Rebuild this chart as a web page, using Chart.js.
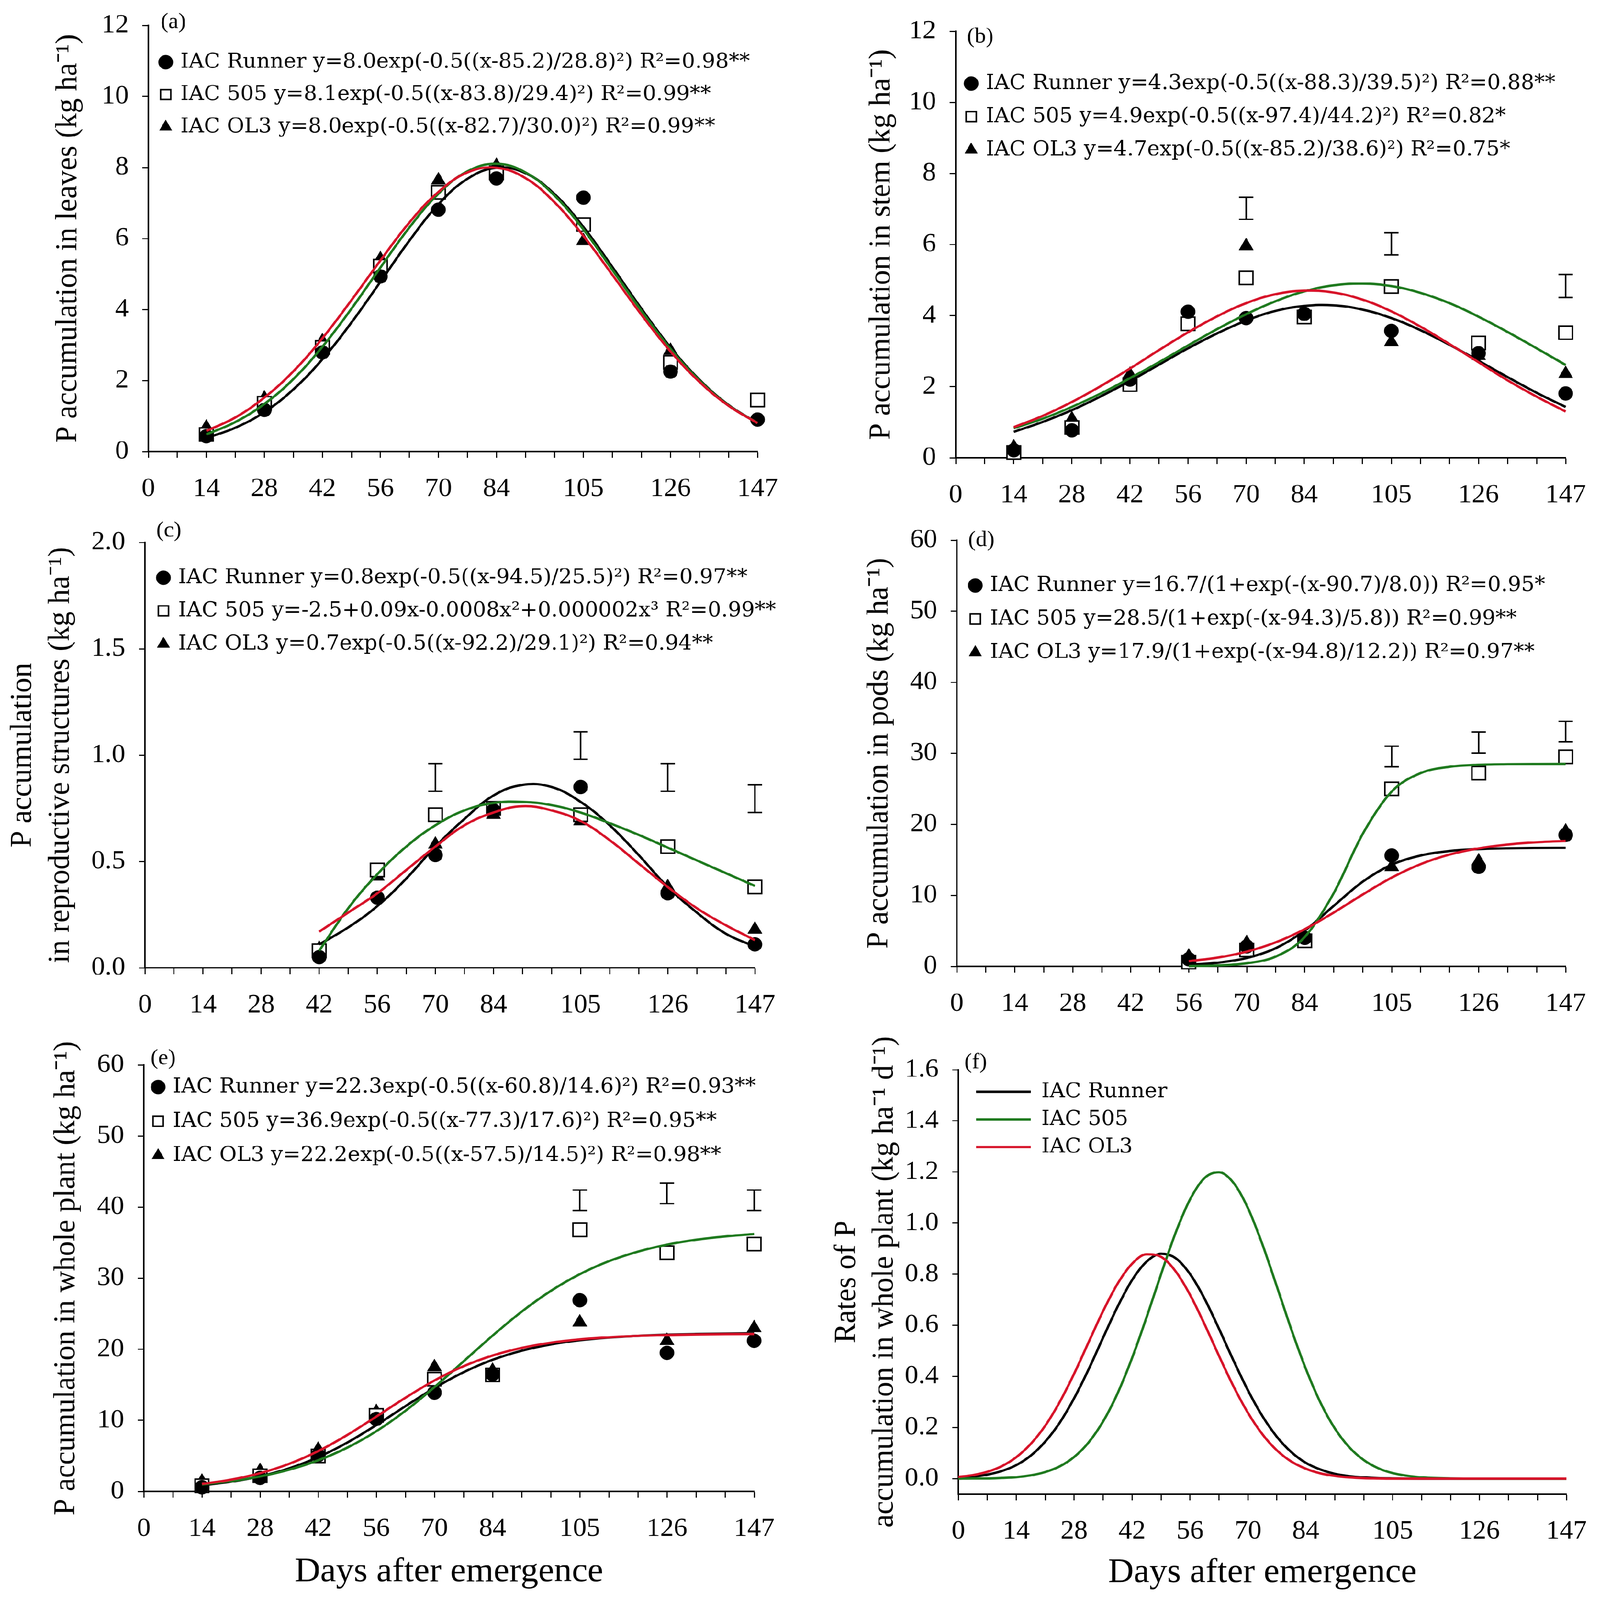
<!DOCTYPE html>
<html>
<head>
<meta charset="utf-8">
<title>P accumulation</title>
<script src="https://cdn.jsdelivr.net/npm/chart.js@4.4.1/dist/chart.umd.min.js"></script>
<style>
  html, body { margin: 0; padding: 0; background: #ffffff; overflow: hidden; }
  #page { width: 4239px; height: 4348px; position: absolute; left: 0; top: 0; transform-origin: 0 0; }
  canvas { position: absolute; }
</style>
</head>
<body>
<div id="page">
<canvas id="panelA"></canvas>
<canvas id="panelB"></canvas>
<canvas id="panelC"></canvas>
<canvas id="panelD"></canvas>
<canvas id="panelE"></canvas>
<canvas id="panelF"></canvas>
</div>
<script>
// ---- values ----
const X_TICKS = [0, 7, 14, 21, 28, 35, 42, 49, 56, 63, 70, 77, 84, 91, 98, 105, 112, 119, 126, 133, 140, 147];
const X_TICK_LABELS = [0, 14, 28, 42, 56, 70, 84, 105, 126, 147];

const DAYS = [14, 28, 42, 56, 70, 84, 105, 126, 147];
const DAYS_C = [42, 56, 70, 84, 105, 126, 147];
const DAYS_D = [56, 70, 84, 105, 126, 147];
const FIT_X = [14, 21, 28, 35, 42, 49, 56, 63, 70, 77, 84, 91, 98, 105, 112, 119, 126, 133, 140, 147];
const FIT_X_C = [42, 49, 56, 63, 70, 77, 84, 91, 98, 105, 112, 119, 126, 133, 140, 147];
const FIT_X_D = [56, 63, 70, 77, 84, 91, 98, 105, 112, 119, 126, 133, 140, 147];
const RATE_X = [0, 3.5, 7, 10.5, 14, 17.5, 21, 24.5, 28, 31.5, 35, 38.5, 42, 45.5, 49, 52.5, 56, 59.5, 63, 66.5,
  70, 73.5, 77, 80.5, 84, 87.5, 91, 94.5, 98, 101.5, 105, 112, 119, 126, 133, 140, 147];

// (a) leaves
const A_Y_TICKS = [0, 2, 4, 6, 8, 10, 12];
const A_RUNNER = [0.43, 1.17, 2.79, 4.93, 6.81, 7.69, 7.15, 2.25, 0.90];
const A_505 = [0.48, 1.36, 2.93, 5.22, 7.30, 7.85, 6.39, 2.51, 1.45];
const A_OL3 = [0.68, 1.50, 3.11, 5.42, 7.64, 8.05, 5.93, 2.84, 1.36];
const A_FIT_RUNNER = [0.38, 0.67, 1.11, 1.75, 2.60, 3.63, 4.78, 5.94, 6.96, 7.68, 7.99, 7.84, 7.25, 6.32, 5.19, 4.02, 2.93, 2.02, 1.31, 0.80];
const A_FIT_505 = [0.48, 0.83, 1.34, 2.04, 2.95, 4.02, 5.18, 6.31, 7.26, 7.89, 8.10, 7.86, 7.21, 6.25, 5.11, 3.96, 2.89, 2.00, 1.30, 0.80];
const A_FIT_OL3 = [0.58, 0.96, 1.52, 2.26, 3.19, 4.26, 5.38, 6.45, 7.31, 7.86, 7.99, 7.70, 7.02, 6.07, 4.97, 3.85, 2.82, 1.96, 1.29, 0.80];
const A_LEGEND = [
  'IAC Runner y=8.0exp(-0.5((x-85.2)/28.8)²) R²=0.98**',
  'IAC 505 y=8.1exp(-0.5((x-83.8)/29.4)²) R²=0.99**',
  'IAC OL3 y=8.0exp(-0.5((x-82.7)/30.0)²) R²=0.99**'
];

// (b) stem
const B_Y_TICKS = [0, 2, 4, 6, 8, 10, 12];
const B_RUNNER = [0.21, 0.77, 2.20, 4.11, 3.93, 4.05, 3.57, 2.94, 1.81];
const B_505 = [0.15, 0.85, 2.06, 3.77, 5.06, 3.96, 4.82, 3.23, 3.52];
const B_OL3 = [0.30, 1.09, 2.34, 4.00, 5.96, 3.96, 3.26, 2.87, 2.36];
const B_FIT_RUNNER = [0.73, 1.01, 1.34, 1.73, 2.16, 2.62, 3.08, 3.50, 3.86, 4.13, 4.27, 4.29, 4.17, 3.93, 3.59, 3.18, 2.73, 2.27, 1.83, 1.43];
const B_FIT_505 = [0.83, 1.10, 1.43, 1.81, 2.24, 2.69, 3.16, 3.62, 4.04, 4.40, 4.68, 4.85, 4.90, 4.83, 4.64, 4.35, 3.97, 3.54, 3.08, 2.61];
const B_FIT_OL3 = [0.86, 1.18, 1.57, 2.02, 2.51, 3.03, 3.53, 3.98, 4.35, 4.60, 4.70, 4.65, 4.45, 4.12, 3.69, 3.20, 2.69, 2.18, 1.72, 1.30];
const B_BAR_X = [70, 105, 147];
const B_BAR_LO = [6.71, 5.71, 4.51];
const B_BAR_HI = [7.33, 6.33, 5.16];
const B_LEGEND = [
  'IAC Runner y=4.3exp(-0.5((x-88.3)/39.5)²) R²=0.88**',
  'IAC 505 y=4.9exp(-0.5((x-97.4)/44.2)²) R²=0.82*',
  'IAC OL3 y=4.7exp(-0.5((x-85.2)/38.6)²) R²=0.75*'
];

// (c) reproductive structures
const C_Y_TICKS = [0, 0.5, 1.0, 1.5, 2.0];
const C_RUNNER = [0.05, 0.33, 0.53, 0.74, 0.85, 0.35, 0.11];
const C_505 = [0.08, 0.46, 0.72, 0.75, 0.72, 0.57, 0.38];
const C_OL3 = [0.09, 0.43, 0.58, 0.72, 0.69, 0.38, 0.18];
const C_FIT_RUNNER = [0.11, 0.19, 0.29, 0.42, 0.57, 0.70, 0.81, 0.86, 0.85, 0.78, 0.67, 0.53, 0.38, 0.26, 0.16, 0.10];
const C_FIT_505 = [0.08, 0.28, 0.44, 0.57, 0.67, 0.74, 0.775, 0.78, 0.765, 0.73, 0.68, 0.625, 0.565, 0.505, 0.445, 0.385];
const C_FIT_OL3 = [0.17, 0.26, 0.35, 0.46, 0.57, 0.67, 0.73, 0.76, 0.74, 0.69, 0.60, 0.49, 0.38, 0.28, 0.20, 0.13];
const C_BAR_X = [70, 105, 126, 147];
const C_BAR_LO = [0.83, 0.98, 0.83, 0.73];
const C_BAR_HI = [0.96, 1.11, 0.96, 0.86];
const C_LEGEND = [
  'IAC Runner y=0.8exp(-0.5((x-94.5)/25.5)²) R²=0.97**',
  'IAC 505 y=-2.5+0.09x-0.0008x²+0.000002x³ R²=0.99**',
  'IAC OL3 y=0.7exp(-0.5((x-92.2)/29.1)²) R²=0.94**'
];

// (d) pods
const D_Y_TICKS = [0, 10, 20, 30, 40, 50, 60];
const D_RUNNER = [1.0, 2.8, 4.0, 15.6, 14.0, 18.5];
const D_505 = [0.6, 2.3, 3.6, 25.0, 27.2, 29.5];
const D_OL3 = [1.4, 3.3, 4.2, 14.0, 14.8, 19.0];
const D_FIT_RUNNER = [0.22, 0.51, 1.17, 2.55, 5.04, 8.51, 11.92, 14.31, 15.61, 16.23, 16.50, 16.62, 16.67, 16.69];
const D_FIT_505 = [0.04, 0.13, 0.43, 1.37, 4.13, 10.30, 18.65, 24.61, 27.21, 28.10, 28.38, 28.46, 28.49, 28.50];
const D_FIT_OL3 = [0.72, 1.23, 2.07, 3.38, 5.23, 7.57, 10.11, 12.49, 14.39, 15.74, 16.61, 17.15, 17.47, 17.66];
const D_BAR_X = [105, 126, 147];
const D_BAR_LO = [28.1, 30.0, 31.6];
const D_BAR_HI = [31.0, 33.0, 34.5];
const D_LEGEND = [
  'IAC Runner y=16.7/(1+exp(-(x-90.7)/8.0)) R²=0.95*',
  'IAC 505 y=28.5/(1+exp(-(x-94.3)/5.8)) R²=0.99**',
  'IAC OL3 y=17.9/(1+exp(-(x-94.8)/12.2)) R²=0.97**'
];

// (e) whole plant
const E_Y_TICKS = [0, 10, 20, 30, 40, 50, 60];
const E_RUNNER = [0.6, 1.9, 5.1, 10.2, 13.9, 16.5, 26.9, 19.5, 21.2];
const E_505 = [0.8, 2.2, 5.0, 10.7, 15.8, 16.4, 36.8, 33.6, 34.8];
const E_OL3 = [1.4, 2.9, 5.9, 11.2, 17.5, 17.0, 23.8, 21.2, 23.0];
const E_FIT_RUNNER = [0.87, 1.37, 2.13, 3.25, 4.82, 6.87, 9.33, 11.99, 14.55, 16.77, 18.52, 19.80, 20.68, 21.27, 21.65, 21.89, 22.05, 22.14, 22.20, 22.24];
const E_FIT_505 = [0.98, 1.45, 2.11, 3.06, 4.38, 6.16, 8.47, 11.34, 14.68, 18.29, 21.92, 25.29, 28.20, 30.56, 32.39, 33.74, 34.72, 35.41, 35.88, 36.21];
const E_FIT_OL3 = [1.05, 1.66, 2.57, 3.88, 5.67, 7.94, 10.53, 13.18, 15.61, 17.61, 19.12, 20.19, 20.92, 21.39, 21.69, 21.88, 22.00, 22.08, 22.13, 22.15];
const E_BAR_X = [105, 126, 147];
const E_BAR_LO = [39.5, 40.5, 39.5];
const E_BAR_HI = [42.4, 43.4, 42.4];
const E_LEGEND = [
  'IAC Runner y=22.3exp(-0.5((x-60.8)/14.6)²) R²=0.93**',
  'IAC 505 y=36.9exp(-0.5((x-77.3)/17.6)²) R²=0.95**',
  'IAC OL3 y=22.2exp(-0.5((x-57.5)/14.5)²) R²=0.98**'
];

// (f) rates
const F_Y_TICKS = [0, 0.2, 0.4, 0.6, 0.8, 1.0, 1.2, 1.4, 1.6];
const F_RUNNER = [0.004, 0.008, 0.016, 0.030, 0.053, 0.090, 0.145, 0.219, 0.315, 0.428, 0.552, 0.673, 0.777, 0.849, 0.880, 0.863,
  0.801, 0.705, 0.587, 0.463, 0.346, 0.245, 0.164, 0.104, 0.062, 0.036, 0.019, 0.010, 0.005, 0.002, 0.001, 0, 0, 0, 0, 0, 0];
const F_505 = [0, 0.001, 0.001, 0.003, 0.006, 0.013, 0.026, 0.048, 0.085, 0.142, 0.224, 0.334, 0.472, 0.631, 0.800, 0.961,
  1.092, 1.176, 1.199, 1.158, 1.059, 0.917, 0.752, 0.584, 0.430, 0.299, 0.197, 0.123, 0.073, 0.041, 0.022, 0.005, 0.001, 0, 0, 0, 0];
const F_OL3 = [0.007, 0.014, 0.027, 0.049, 0.084, 0.136, 0.207, 0.300, 0.411, 0.534, 0.656, 0.763, 0.841, 0.878, 0.868, 0.812,
  0.720, 0.605, 0.481, 0.362, 0.258, 0.174, 0.111, 0.067, 0.039, 0.021, 0.011, 0.005, 0.002, 0.001, 0, 0, 0, 0, 0, 0, 0];
const F_LEGEND = ['IAC Runner', 'IAC 505', 'IAC OL3'];

// ---- styles ----
const BLACK = '#000000';
const GREEN = '#1f7a1f';
const RED = '#d7142a';

const PAGE_W = 4239;
const PAGE_H = 4348;
const AXIS_W = 380;          // width given to every y axis box
const PAD_TOP = 90;
const PAD_RIGHT = 110;
const X_AXIS_H = 150;
const X_AXIS_H_TITLE = 330;
const LEGEND_SIZE = 56;

const SERIF = '"Liberation Serif", "Times New Roman", serif';
const TICK_FONT = { family: SERIF, size: 72 };
const TITLE_FONT = { family: SERIF, size: 81, lineHeight: 1.235 };
const XTITLE_FONT = { family: SERIF, size: 94, lineHeight: 1.2 };
const LEGEND_FONT = { family: '"DejaVu Serif", serif', size: LEGEND_SIZE };

const MARKERS = [
  { shape: 'circle', r: 19, fill: BLACK, bw: 1 },
  { shape: 'rect', r: 25.5, fill: '#ffffff', bw: 4 },
  { shape: 'triangle', r: 22, fill: BLACK, bw: 1 }
];

function pairs(xs, ys) {
  return xs.map((x, i) => ({ x: x, y: ys[i] }));
}

function markerSet(label, xs, ys, m) {
  return {
    label: label,
    data: pairs(xs, ys),
    showLine: false,
    pointStyle: m.shape,
    pointRadius: m.r,
    pointHoverRadius: m.r,
    backgroundColor: m.fill,
    borderColor: BLACK,
    borderWidth: m.bw,
    clip: false,
    order: 3
  };
}

// smooth: 'monotone' for s-shaped fits, otherwise a plain bezier
function curveSet(label, xs, ys, color, order, smooth) {
  const set = {
    label: label,
    data: pairs(xs, ys),
    borderColor: color,
    backgroundColor: color,
    borderWidth: 6.5,
    pointBorderWidth: 6.5,
    pointRadius: 0,
    pointHoverRadius: 0,
    fill: false,
    clip: false,
    order: order
  };
  if (smooth === 'monotone') {
    set.cubicInterpolationMode = 'monotone';
  } else {
    set.tension = 0.4;
  }
  return set;
}

function errorBarSet(xs, lo, hi) {
  const data = [];
  xs.forEach((x, i) => {
    data.push({ x: x, y: lo[i] }, { x: x, y: hi[i] }, { x: x, y: null });
  });
  return {
    label: '',
    data: data,
    borderColor: BLACK,
    borderWidth: 4,
    pointStyle: 'line',
    pointRadius: 19,
    pointHoverRadius: 19,
    pointBorderColor: BLACK,
    pointBorderWidth: 4,
    spanGaps: false,
    clip: false,
    order: 6
  };
}

// markers + fitted curves (+ optional error bars) for panels a-e
function panelData(days, runner, c505, ol3, fitX, fitRunner, fit505, fitOl3, legend, bars, smooth) {
  const sets = [
    markerSet(legend[0], days, runner, MARKERS[0]),
    markerSet(legend[1], days, c505, MARKERS[1]),
    markerSet(legend[2], days, ol3, MARKERS[2]),
    curveSet('', fitX, fitRunner, BLACK, 2, smooth),
    curveSet('', fitX, fit505, GREEN, 1, smooth),
    curveSet('', fitX, fitOl3, RED, 0, smooth)
  ];
  if (bars) sets.push(errorBarSet(bars[0], bars[1], bars[2]));
  return sets;
}

// moves the chartArea legend to where it sits in the figure
const legendPlace = {
  id: 'legendPlace',
  afterLayout(chart, args, opts) {
    const lg = chart.legend;
    const ca = chart.chartArea;
    if (!lg || !opts.pos) return;
    const pad = opts.pos.gap - LEGEND_SIZE;
    lg.left = ca.left + opts.pos.mx - opts.pos.box / 2 - pad;
    lg.top = ca.top + opts.pos.y0 - pad - LEGEND_SIZE / 2;
    lg.right = chart.width;
    lg.bottom = ca.bottom;
  }
};

// "(a)", "(b)" ... labels
const panelTag = {
  id: 'panelTag',
  afterDraw(chart, args, opts) {
    const ca = chart.chartArea;
    const ctx = chart.ctx;
    ctx.save();
    ctx.font = '60px ' + SERIF;
    ctx.fillStyle = BLACK;
    ctx.textAlign = 'left';
    ctx.textBaseline = 'middle';
    ctx.fillText(opts.text, ca.left + opts.dx, ca.top + opts.dy);
    ctx.restore();
  }
};

function makePanel(p) {
  const canvas = document.getElementById(p.id);
  const xH = p.xTitleY ? X_AXIS_H_TITLE : X_AXIS_H;
  const w = AXIS_W + (p.R - p.L) + PAD_RIGHT;
  const h = PAD_TOP + (p.B - p.T) + xH;
  canvas.width = w;
  canvas.height = h;
  canvas.style.width = w + 'px';
  canvas.style.height = h + 'px';
  canvas.style.left = (p.L - AXIS_W) + 'px';
  canvas.style.top = (p.T - PAD_TOP) + 'px';

  const lineLegend = p.lineLegend === true;

  return new Chart(canvas, {
    type: 'line',
    data: { datasets: p.datasets },
    options: {
      responsive: false,
      devicePixelRatio: 1,
      animation: false,
      events: [],
      layout: { padding: { left: 0, top: PAD_TOP, right: PAD_RIGHT, bottom: 0 } },
      scales: {
        x: {
          type: 'linear',
          min: 0,
          max: 147,
          afterBuildTicks: (axis) => { axis.ticks = X_TICKS.map(v => ({ value: v })); },
          afterFit: (axis) => { axis.height = xH; },
          border: { display: true, color: BLACK, width: 4 },
          grid: { display: true, drawOnChartArea: false, drawTicks: true, tickLength: 17, tickWidth: 3, tickColor: BLACK, color: BLACK },
          ticks: {
            autoSkip: false,
            maxRotation: 0,
            padding: 42,
            color: BLACK,
            font: TICK_FONT,
            callback: (v) => X_TICK_LABELS.includes(v) ? String(v) : ''
          },
          title: p.xTitleY ? {
            display: true,
            text: 'Days after emergence',
            color: BLACK,
            font: XTITLE_FONT,
            padding: { top: 0, bottom: X_AXIS_H_TITLE - p.xTitleY - 56 }
          } : { display: false }
        },
        y: {
          type: 'linear',
          min: p.yMin,
          max: p.yMax,
          afterBuildTicks: (axis) => { axis.ticks = p.yTicks.map(v => ({ value: v })); },
          afterFit: (axis) => {
            axis.width = AXIS_W;
            // long rotated titles may run past the axis ends, as in the figure
            if (!axis._wideTitle) {
              const draw = axis.drawTitle;
              axis.drawTitle = function () {
                const top = this.top, bottom = this.bottom;
                this.top = top - 150;
                this.bottom = bottom + 150;
                draw.call(this);
                this.top = top;
                this.bottom = bottom;
              };
              axis._wideTitle = true;
            }
          },
          border: { display: true, color: BLACK, width: 4 },
          grid: { display: true, drawOnChartArea: false, drawTicks: true, tickLength: 16, tickWidth: 3, tickColor: BLACK, color: BLACK },
          ticks: {
            padding: 36,
            color: BLACK,
            font: TICK_FONT,
            callback: (v) => Number(v).toFixed(p.yDec)
          },
          title: {
            display: true,
            text: p.yTitle,
            color: BLACK,
            font: TITLE_FONT,
            padding: { top: AXIS_W + p.yTitleX - 50, bottom: 0 }
          }
        }
      },
      plugins: {
        tooltip: { enabled: false },
        title: { display: false },
        legend: {
          display: true,
          position: 'chartArea',
          align: 'start',
          labels: {
            usePointStyle: true,
            pointStyle: lineLegend ? 'line' : undefined,
            pointStyleWidth: lineLegend ? p.legend.box : undefined,
            boxWidth: p.legend.box,
            boxHeight: lineLegend ? 20 : 27,
            padding: p.legend.gap - LEGEND_SIZE,
            color: BLACK,
            font: LEGEND_FONT,
            filter: (item) => item.text !== '' && item.text !== undefined,
            sort: (a, b) => a.datasetIndex - b.datasetIndex
          }
        },
        legendPlace: { pos: p.legend },
        panelTag: { text: p.tag, dx: p.tagDx, dy: p.tagDy }
      }
    },
    plugins: [legendPlace, panelTag]
  });
}

// fit the fixed-size figure into the window if the window is smaller
function fitPage() {
  const sx = Math.min(1, window.innerWidth / PAGE_W);
  const sy = Math.min(1, window.innerHeight / PAGE_H);
  document.getElementById('page').style.transform = 'scale(' + sx + ',' + sy + ')';
}

document.addEventListener('DOMContentLoaded', () => {
  Chart.defaults.font.family = SERIF;
  Chart.defaults.color = BLACK;
  fitPage();

  makePanel({
    id: 'panelA', tag: '(a)', tagDx: 33, tagDy: -9,
    L: 393, T: 69, R: 2007, B: 1227,
    yMin: 0, yMax: 12, yTicks: A_Y_TICKS, yDec: 0,
    yTitle: 'P accumulation in leaves (kg ha⁻¹)', yTitleX: -212,
    legend: { mx: 46, y0: 100, gap: 88, box: 22 },
    datasets: panelData(DAYS, A_RUNNER, A_505, A_OL3, FIT_X, A_FIT_RUNNER, A_FIT_505, A_FIT_OL3, A_LEGEND, null, 'bezier')
  });

  makePanel({
    id: 'panelB', tag: '(b)', tagDx: 30, tagDy: 15,
    L: 2532, T: 85, R: 4148, B: 1244,
    yMin: 0, yMax: 12, yTicks: B_Y_TICKS, yDec: 0,
    yTitle: 'P accumulation in stem (kg ha⁻¹)', yTitleX: -196,
    legend: { mx: 41, y0: 142, gap: 90, box: 22 },
    datasets: panelData(DAYS, B_RUNNER, B_505, B_OL3, FIT_X, B_FIT_RUNNER, B_FIT_505, B_FIT_OL3, B_LEGEND,
      [B_BAR_X, B_BAR_LO, B_BAR_HI], 'bezier')
  });

  makePanel({
    id: 'panelC', tag: '(c)', tagDx: 30, tagDy: -32,
    L: 384, T: 1474, R: 2000, B: 2630,
    yMin: 0, yMax: 2, yTicks: C_Y_TICKS, yDec: 1,
    yTitle: ['P accumulation', 'in reproductive structures (kg ha⁻¹)'], yTitleX: -323,
    legend: { mx: 49, y0: 96, gap: 90, box: 22 },
    datasets: panelData(DAYS_C, C_RUNNER, C_505, C_OL3, FIT_X_C, C_FIT_RUNNER, C_FIT_505, C_FIT_OL3, C_LEGEND,
      [C_BAR_X, C_BAR_LO, C_BAR_HI], 'bezier')
  });

  makePanel({
    id: 'panelD', tag: '(d)', tagDx: 30, tagDy: 0,
    L: 2535, T: 1468, R: 4148, B: 2626,
    yMin: 0, yMax: 60, yTicks: D_Y_TICKS, yDec: 0,
    yTitle: 'P accumulation in pods (kg ha⁻¹)', yTitleX: -205,
    legend: { mx: 49, y0: 123, gap: 91, box: 22 },
    datasets: panelData(DAYS_D, D_RUNNER, D_505, D_OL3, FIT_X_D, D_FIT_RUNNER, D_FIT_505, D_FIT_OL3, D_LEGEND,
      [D_BAR_X, D_BAR_LO, D_BAR_HI], 'monotone')
  });

  makePanel({
    id: 'panelE', tag: '(e)', tagDx: 18, tagDy: -18,
    L: 381, T: 2894, R: 1998, B: 4053,
    yMin: 0, yMax: 60, yTicks: E_Y_TICKS, yDec: 0,
    yTitle: 'P accumulation in whole plant (kg ha⁻¹)', yTitleX: -205,
    xTitleY: 220,
    legend: { mx: 38, y0: 60, gap: 93, box: 22 },
    datasets: panelData(DAYS, E_RUNNER, E_505, E_OL3, FIT_X, E_FIT_RUNNER, E_FIT_505, E_FIT_OL3, E_LEGEND,
      [E_BAR_X, E_BAR_LO, E_BAR_HI], 'monotone')
  });

  makePanel({
    id: 'panelF', tag: '(f)', tagDx: 16, tagDy: -20,
    L: 2539, T: 2907, R: 4150, B: 4060,
    yMin: -0.06, yMax: 1.6, yTicks: F_Y_TICKS, yDec: 1,
    yTitle: ['Rates of P', 'accumulation in whole plant (kg ha⁻¹ d⁻¹)'], yTitleX: -295,
    xTitleY: 215,
    lineLegend: true,
    legend: { mx: 47 + 72.5, y0: 60, gap: 75, box: 145 },
    datasets: [
      curveSet(F_LEGEND[0], RATE_X, F_RUNNER, BLACK, 2, 'monotone'),
      curveSet(F_LEGEND[1], RATE_X, F_505, GREEN, 1, 'monotone'),
      curveSet(F_LEGEND[2], RATE_X, F_OL3, RED, 0, 'monotone')
    ]
  });
});
</script>
</body>
</html>
